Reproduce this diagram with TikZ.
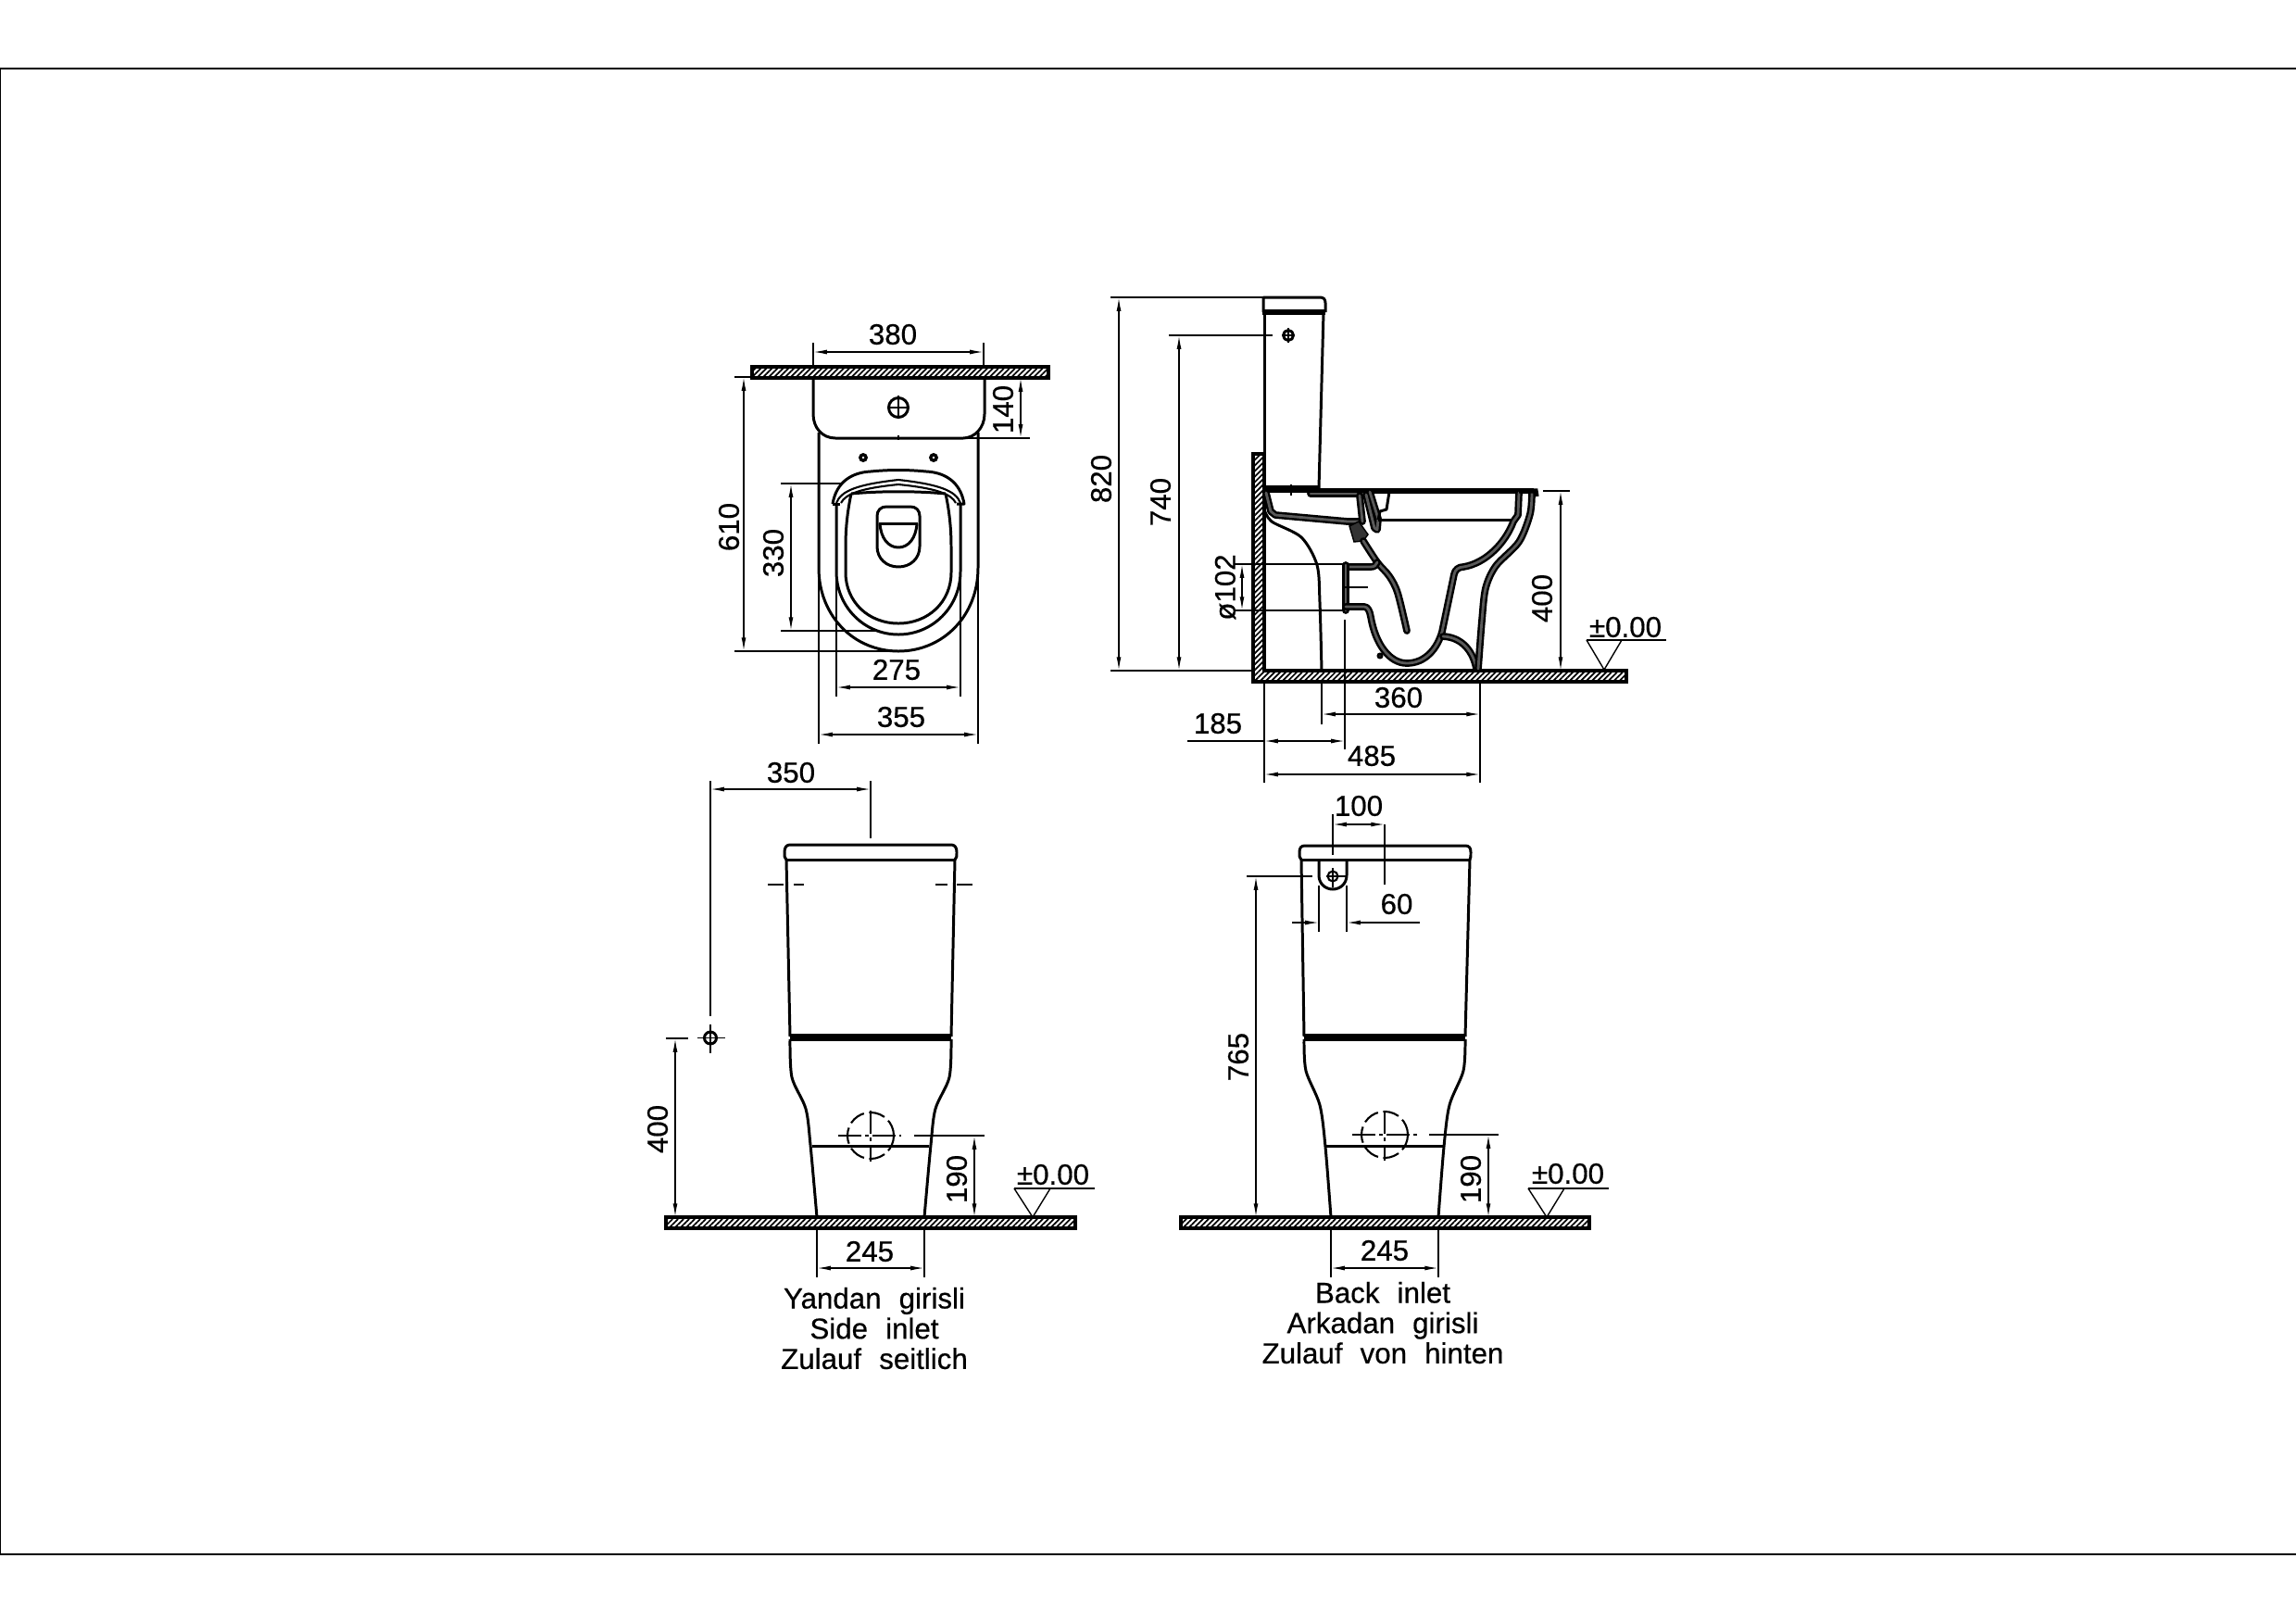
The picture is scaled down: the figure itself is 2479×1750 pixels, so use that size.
\documentclass[tikz,border=0pt]{standalone}
\usepackage{fontspec}
\setmainfont[WordSpace=2.2,FakeBold=0.5]{Liberation Sans}
\usetikzlibrary{arrows.meta,patterns.meta}

\tikzset{
	outline/.style={line width=.85pt, line join=round},
	fine/.style={line width=.6pt, line join=round},
	heavy/.style={line width=1.5pt},
	thin line/.style={line width=.4pt},
	centre/.style={line width=.3pt, dash pattern=on 7pt off 1.2pt on 1.2pt off 1.2pt},
	dim/.style={line width=.4pt, <->, >={Latex[length=4.2pt,width=1.4pt]}},
	oneway/.style={line width=.4pt, ->, >={Latex[length=4.2pt,width=1.4pt]}},
	section/.style={line width=.7pt, double=black!65, double distance=.8pt, line join=round, line cap=round},
	wall/.style={draw, line width=.9pt, pattern={Lines[angle=45,distance=1.2pt,line width=.5pt]}},
	num/.style={font=\fontsize{8.9}{10}\selectfont, inner sep=0pt},
	caption/.style={font=\fontsize{8.9}{9.3}\selectfont, inner sep=0pt, align=center}
}

\begin{document}
\begin{tikzpicture}[x=.1mm, y=-.1mm]
	
	\useasboundingbox (0,0) rectangle (2479,1750);
	
	\draw[line width=.5pt] (0,1678) -- (2479,1678);
	\draw[line width=.5pt] (0,74) -- (2479,74);
	\draw[line width=.5pt] (0,74) -- (0,1678);
	
	% plan
	\draw[wall] (812,396) rectangle (1132,408);
	\draw[outline] (878,408) -- (878,447) .. controls (878,462) and (888,473) .. (902,473) -- (1040,473) .. controls (1052,473) and (1063,462) .. (1063,447) -- (1063,408);
	\draw[thin line] (970,470) -- (970,475);
	\draw[outline] (970,440) circle (10.5);
	\draw[thin line] (970,427) -- (970,452);
	\draw[thin line] (958,440) -- (982,440);
	\draw[outline] (884,467) -- (884,613) .. controls (884,665) and (922,703) .. (970,703) .. controls (1018,703) and (1056,665) .. (1056,613) -- (1056,467);
	\draw[outline] (903,543) -- (903,617) .. controls (903,655) and (933,685) .. (970,685) .. controls (1007,685) and (1037,655) .. (1037,617) -- (1037,543);
	\draw[outline] (919,533) .. controls (915,552) and (913,570) .. (913,590) -- (913,618) .. controls (913,650) and (938,673) .. (970,673) .. controls (1002,673) and (1027,650) .. (1027,618) -- (1027,590) .. controls (1027,570) and (1025,552) .. (1021,533);
	\draw[outline] (919,533) .. controls (950,530) and (990,530) .. (1021,533);
	\draw[outline] (899,544) .. controls (903,520) and (920,510) .. (940,509) .. controls (960,507) and (980,507) .. (1000,509) .. controls (1020,510) and (1037,520) .. (1041,544) -- (1033,544);
	\draw[outline] (899,544) -- (907,544);
	\draw[fine] (903,543) .. controls (908,530) and (925,523) .. (970,518) .. controls (1015,523) and (1032,530) .. (1037,543);
	\draw[fine] (908,543) .. controls (913,533) and (930,527) .. (970,523) .. controls (1010,527) and (1027,533) .. (1032,543);
	\draw[outline] (947,557) -- (947,590) .. controls (947,603) and (957,612) .. (970,612) .. controls (983,612) and (993,603) .. (993,590) -- (993,557) .. controls (993,551) and (989,547) .. (983,547) -- (957,547) .. controls (951,547) and (947,551) .. (947,557);
	\draw[outline] (949,565) -- (991,565);
	\draw[outline] (950,565) .. controls (951,581) and (959,591) .. (970,591) .. controls (981,591) and (989,581) .. (990,565);
	\fill (932,494) circle (5);
	\fill (1008,494) circle (5);
	\fill[white] (932,494) circle (1.4);
	\fill[white] (1008,494) circle (1.4);
	
	\draw[dim] (878,380) -- (1062,380);
	\draw[thin line] (878,370) -- (878,396);
	\draw[thin line] (1062,370) -- (1062,396);
	\node[num] (planwidth) at (964,361) {380};
	
	\draw[dim] (1102,408) -- (1102,473);
	\draw[thin line] (1040,473) -- (1112,473);
	\node[num, rotate=90] (tankdepth) at (1083,442) {140};
	
	\draw[dim] (803,407) -- (803,703);
	\draw[thin line] (793,407) -- (812,407);
	\draw[thin line] (793,703) -- (970,703);
	\node[num, rotate=90] (planlength) at (787,569) {610};
	
	\draw[dim] (854,522) -- (854,681);
	\draw[thin line] (843,522) -- (908,522);
	\draw[thin line] (843,681) -- (947,681);
	\node[num, rotate=90] (bowllength) at (835,597) {330};
	
	\draw[dim] (903,742) -- (1037,742);
	\draw[thin line] (903,620) -- (903,752);
	\draw[thin line] (1037,620) -- (1037,752);
	\node[num] (bowlwidth) at (968,723) {275};
	
	\draw[dim] (884,793) -- (1056,793);
	\draw[thin line] (884,613) -- (884,803);
	\draw[thin line] (1056,613) -- (1056,803);
	\node[num] (bodywidth) at (973,774) {355};
	
	% side section
	\draw[wall] (1353,490) -- (1365,490) -- (1365,724) -- (1756,724) -- (1756,736) -- (1353,736) -- cycle;
	\draw[outline] (1364,337) -- (1364,321) -- (1425,321) .. controls (1429,321) and (1431,323) .. (1431,327) -- (1431,337);
	\draw[heavy] (1363,337) -- (1431,337);
	\draw[outline] (1365,337) -- (1365,527);
	\draw[outline] (1429,337) -- (1424,527);
	\draw[outline] (1391,362) circle (5.5);
	\draw[thin line] (1391,354) -- (1391,370);
	\draw[thin line] (1385,362) -- (1397,362);
	
	\draw[line width=2.4pt] (1365,528) -- (1424,528);
	\draw[heavy] (1424,530) -- (1656,530);
	\draw[thin line] (1394,523) -- (1394,535);
	\draw[section] (1415,533) -- (1477,533);
	\draw[section] (1367,532) -- (1372,552) -- (1377,556) -- (1455,563) -- (1468,563);
	\draw[section] (1468,535) -- (1471,563);
	\draw[section] (1475,534) -- (1484,570) -- (1487,572) -- (1488,560) -- (1479,531);
	\draw[outline] (1500,531) -- (1497,550) -- (1490,552) -- (1488,561);
	\draw[outline] (1488,561) -- (1634,561);
	\draw[fill=black!80] (1457,568) -- (1467,563) -- (1477,577) -- (1472,584) -- (1462,585) -- cycle;
	\draw[section] plot[smooth] coordinates {(1472,584) (1487,607) (1500,622) (1509,640) (1519,681)};
	\draw[section] (1453,612) -- (1480,612) .. controls (1484,612) and (1486,610) .. (1487,607);
	\draw[section] (1453,610) -- (1453,659);
	\draw[section] (1453,655) -- (1473,655) .. controls (1477,655) and (1479,660) .. (1480,666) .. controls (1485,695) and (1500,716) .. (1519,716) .. controls (1539,716) and (1552,700) .. (1557,682) -- (1570,620) .. controls (1571,615) and (1575,612) .. (1580,612) .. controls (1605,608) and (1626,585) .. (1634,563) -- (1639,556) -- (1640,532);
	\draw[section] (1558,687) .. controls (1580,688) and (1591,705) .. (1594,722);
	\draw[section] plot[smooth] coordinates {(1654,532) (1652,555) (1640,585) (1615,611) (1604,635) (1600,670) (1596,722)};
	\draw[heavy] (1640,530) -- (1658,530) -- (1659,536);
	\draw[outline] plot[smooth] coordinates {(1365,550) (1373,563) (1405,580) (1422,610) (1425,650) (1427,724)};
	\draw[thin line] (1449,634) -- (1477,634);
	\draw[outline] (1490,708) circle (2);
	
	\draw[dim] (1208,321) -- (1208,724);
	\draw[thin line] (1199,321) -- (1364,321);
	\draw[thin line] (1199,724) -- (1353,724);
	\node[num, rotate=90] (sideheight) at (1189,517) {820};
	
	\draw[dim] (1273,362) -- (1273,724);
	\draw[thin line] (1262,362) -- (1374,362);
	\node[num, rotate=90] (inletheight) at (1253,542) {740};
	
	\draw[dim] (1341,609) -- (1341,659);
	\draw[thin line] (1332,609) -- (1451,609);
	\draw[thin line] (1332,659) -- (1451,659);
	\node[num, rotate=90] (outletdia) at (1323,634) {ø102};
	
	\draw[dim] (1685,530) -- (1685,724);
	\draw[thin line] (1666,530) -- (1695,530);
	\node[num, rotate=90] (rimheight) at (1665,646) {400};
	
	\draw[thin line] (1713,691) -- (1799,691);
	\draw[thin line] (1713,691) -- (1732,723) -- (1751,691);
	\node[num] (levelside) at (1755,677) {±0.00};
	
	\draw[dim] (1427,771) -- (1598,771);
	\draw[thin line] (1427,736) -- (1427,782);
	\draw[thin line] (1598,736) -- (1598,845);
	\node[num] (footlength) at (1510,753) {360};
	
	\draw[dim] (1365,800) -- (1452,800);
	\draw[thin line] (1282,800) -- (1365,800);
	\draw[thin line] (1452,669) -- (1452,809);
	\draw[thin line] (1365,736) -- (1365,845);
	\node[num] (outletdist) at (1315,781) {185};
	
	\draw[dim] (1365,836) -- (1598,836);
	\node[num] (sidelength) at (1481,816) {485};
	
	% side inlet
	\draw[wall] (719,1314) rectangle (1161,1326);
	\draw[outline] (849,928) .. controls (847,926) and (847,925) .. (847,920) .. controls (847,915) and (849,912) .. (853,912) -- (1027,912) .. controls (1031,912) and (1033,915) .. (1033,920) .. controls (1033,925) and (1033,926) .. (1031,928);
	\draw[outline] (849,928) -- (1031,928);
	\draw[outline] (849,928) -- (853,1119);
	\draw[outline] (1031,928) -- (1027,1119);
	\draw[heavy] (853,1119) -- (1027,1119);
	\draw[outline] (853,1122) -- (1027,1122);
	\draw[outline] plot[smooth] coordinates {(853,1122) (855,1163) (870,1197) (875,1236) (882,1314)};
	\draw[outline] plot[smooth] coordinates {(1027,1122) (1025,1163) (1010,1197) (1005,1236) (998,1314)};
	\draw[outline] (877,1237) -- (1003,1237);
	\draw[fine, dash pattern=on 5pt off 1.6pt] (940,1226) circle (25);
	\draw[centre] (905,1226) -- (973,1226);
	\draw[centre] (940,1199) -- (940,1254);
	\draw[thin line] (829,955) -- (846,955);
	\draw[thin line] (857,955) -- (868,955);
	\draw[thin line] (1010,955) -- (1023,955);
	\draw[thin line] (1033,955) -- (1050,955);
	\draw[outline] (767,1120.5) circle (6.5);
	\draw[thin line] (753,1120.5) -- (783,1120.5);
	\draw[thin line] (767,1106) -- (767,1137);
	
	\draw[dim] (767,852) -- (940,852);
	\draw[thin line] (767,843) -- (767,1097);
	\draw[thin line] (940,843) -- (940,905);
	\node[num] (sidedist) at (854,834) {350};
	
	\draw[dim] (729,1121) -- (729,1314);
	\draw[thin line] (719,1121) -- (743,1121);
	\node[num, rotate=90] (sideinletheight) at (710,1219) {400};
	
	\draw[dim] (1052,1226) -- (1052,1314);
	\draw[thin line] (987,1226) -- (1063,1226);
	\node[num, rotate=90] (sideoutlet) at (1033,1273) {190};
	
	\draw[thin line] (1095,1283) -- (1182,1283);
	\draw[thin line] (1095,1283) -- (1115,1314) -- (1134,1283);
	\node[num] (levelleft) at (1137,1268) {±0.00};
	
	\draw[dim] (882,1369) -- (998,1369);
	\draw[thin line] (882,1326) -- (882,1379);
	\draw[thin line] (998,1326) -- (998,1379);
	\node[num] (footleft) at (939,1351) {245};
	
	\node[caption] (sidelabel) at (944,1434) {Yandan girisli\\Side inlet\\Zulauf seitlich};
	
	% back inlet
	\draw[wall] (1275,1314) rectangle (1716,1326);
	\draw[outline] (1405,928) .. controls (1403,926) and (1403,925) .. (1403,920) .. controls (1403,915) and (1405,913) .. (1409,913) -- (1582,913) .. controls (1586,913) and (1588,915) .. (1588,920) .. controls (1588,925) and (1588,926) .. (1587,928);
	\draw[outline] (1405,928) -- (1587,928);
	\draw[outline] (1405,928) -- (1408,1119);
	\draw[outline] (1587,928) -- (1582,1119);
	\draw[heavy] (1408,1119) -- (1582,1119);
	\draw[outline] (1408,1122) -- (1582,1122);
	\draw[outline] plot[smooth] coordinates {(1408,1122) (1410,1156) (1425,1193) (1431,1238) (1437,1314)};
	\draw[outline] plot[smooth] coordinates {(1582,1122) (1580,1156) (1565,1193) (1559,1238) (1553,1314)};
	\draw[outline] (1431,1237) -- (1559,1237);
	\draw[fine, dash pattern=on 5pt off 1.6pt] (1495,1225) circle (25);
	\draw[centre] (1460,1225) -- (1533,1225);
	\draw[centre] (1495,1199) -- (1495,1253);
	\draw[outline] (1424,928) -- (1424,945) .. controls (1424,954) and (1431,960) .. (1439,960) .. controls (1447,960) and (1454,954) .. (1454,945) -- (1454,928);
	\draw[fine] (1439,946) circle (5.5);
	\draw[thin line] (1432,946) -- (1453,946);
	\draw[thin line] (1439,937) -- (1439,958);
	
	\draw[dim] (1439,890) -- (1495,890);
	\draw[thin line] (1439,879) -- (1439,923);
	\draw[thin line] (1495,890) -- (1495,955);
	\node[num] (backdist) at (1467,870) {100};
	
	\draw[oneway] (1395,996) -- (1424,996);
	\draw[oneway] (1533,996) -- (1454,996);
	\draw[thin line] (1424,956) -- (1424,1006);
	\draw[thin line] (1454,956) -- (1454,1006);
	\node[num] (bracketwidth) at (1508,976) {60};
	
	\draw[dim] (1356,946) -- (1356,1314);
	\draw[thin line] (1346,946) -- (1417,946);
	\node[num, rotate=90] (backinletheight) at (1337,1141) {765};
	
	\draw[dim] (1607,1225) -- (1607,1314);
	\draw[thin line] (1543,1225) -- (1618,1225);
	\node[num, rotate=90] (backoutlet) at (1588,1273) {190};
	
	\draw[thin line] (1650,1283) -- (1737,1283);
	\draw[thin line] (1650,1283) -- (1670,1314) -- (1689,1283);
	\node[num] (levelright) at (1693,1267) {±0.00};
	
	\draw[dim] (1437,1369) -- (1553,1369);
	\draw[thin line] (1437,1326) -- (1437,1379);
	\draw[thin line] (1553,1326) -- (1553,1379);
	\node[num] (footright) at (1495,1350) {245};
	
	\node[caption] (backlabel) at (1493,1428) {Back inlet\\Arkadan girisli\\Zulauf von hinten};
	
\end{tikzpicture}
\end{document}
